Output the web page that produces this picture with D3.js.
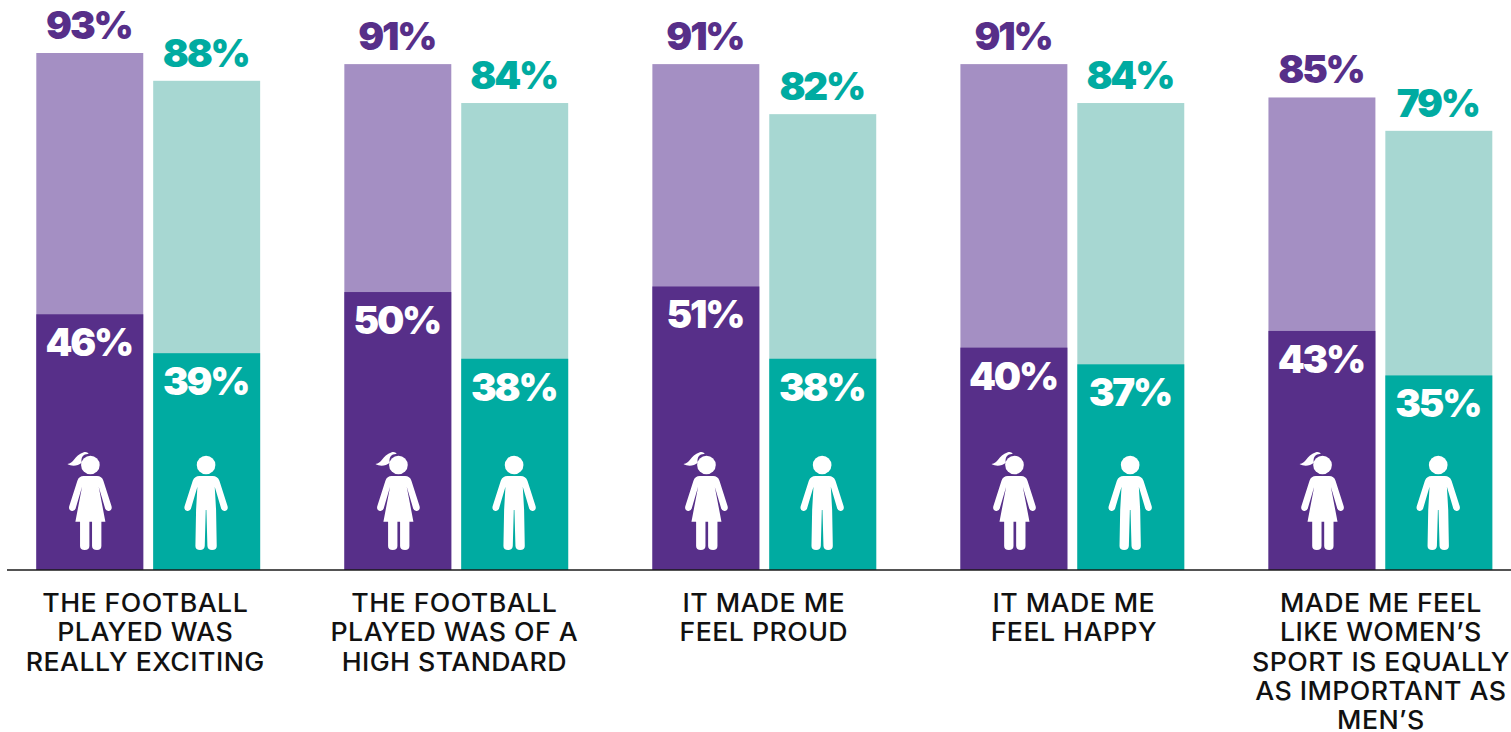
<!DOCTYPE html>
<html><head><meta charset="utf-8">
<script src="https://cdnjs.cloudflare.com/ajax/libs/d3/7.8.5/d3.min.js"></script>
<style>html,body{margin:0;padding:0;background:#fff;overflow:hidden}svg{display:block}</style>
</head><body><svg id="c" width="1511" height="732"></svg>
<script>
const categories = ["football-exciting","football-standard","proud","happy","equally-important"];
const categoryLabels = [
  ["THE FOOTBALL","PLAYED WAS","REALLY EXCITING"],
  ["THE FOOTBALL","PLAYED WAS OF A","HIGH STANDARD"],
  ["IT MADE ME","FEEL PROUD"],
  ["IT MADE ME","FEEL HAPPY"],
  ["MADE ME FEEL","LIKE WOMEN\u2019S","SPORT IS EQUALLY","AS IMPORTANT AS","MEN\u2019S"]
];
const genders = ["girls","boys"];
const girlsTotal = [93,91,91,91,85];
const boysTotal = [88,84,82,84,79];
const girlsStrong = [46,50,51,40,43];
const boysStrong = [39,38,38,37,35];

const colors = {girls:{dark:"#572f89",light:"#a48fc3"},boys:{dark:"#00aba1",light:"#a7d7d2"}};
const svg = d3.select("#c");
const baseY = 570, H = 517;
const y = d3.scaleLinear().domain([0,93]).range([baseY, baseY-H]);
const x0 = d3.scaleBand().domain(categories).range([36.3,1492.3]).paddingInner(0.2733);
const x1 = d3.scaleBand().domain(genders).range([0,x0.bandwidth()]).paddingInner(0.085);
const rows = categories.flatMap((c,i)=>[
  {c,i,g:"girls",total:girlsTotal[i],strong:girlsStrong[i]},
  {c,i,g:"boys",total:boysTotal[i],strong:boysStrong[i]}
]);
const bx = d => x0(d.c)+x1(d.g);
const styleValue = s => s.style("font-family","Inter, sans-serif").style("font-weight",900)
  .style("font-size","38.5px").style("letter-spacing","-2.2px");

svg.append("g").selectAll("rect").data(rows).join("rect")
  .attr("x",bx).attr("width",x1.bandwidth())
  .attr("y",d=>y(d.total)).attr("height",d=>y(0)-y(d.total))
  .attr("fill",d=>colors[d.g].light);
svg.append("g").selectAll("rect").data(rows).join("rect")
  .attr("x",bx).attr("width",x1.bandwidth())
  .attr("y",d=>y(d.strong)).attr("height",d=>y(0)-y(d.strong))
  .attr("fill",d=>colors[d.g].dark);

// value labels
svg.append("g").selectAll("text").data(rows).join("text")
  .attr("x",d=>bx(d)+x1.bandwidth()/2-1).attr("y",d=>y(d.total)-14)
  .attr("text-anchor","middle").call(styleValue)
  .attr("fill",d=>colors[d.g].dark).text(d=>d.total+"%");
svg.append("g").selectAll("text").data(rows).join("text")
  .attr("x",d=>bx(d)+x1.bandwidth()/2-1).attr("y",d=>y(d.strong)+42)
  .attr("text-anchor","middle").call(styleValue)
  .attr("fill","#fff").text(d=>d.strong+"%");

// icons
const girlBody = "M-20,108 L20,108 Q34,108 39,122 L63,197 Q67,210 56,213 Q47,215 44,205 L25,140 L45,245 L33,245 L33,318 Q33,330 20,330 Q5,330 5,318 L5,245 L-3,245 L-3,318 Q-3,330 -17,330 Q-31,330 -31,318 L-31,245 L-45,245 L-25,140 L-44,205 Q-47,215 -56,213 Q-67,210 -63,197 L-39,122 Q-34,108 -20,108 Z";
const girlTail = "M-26,68 C-38,78 -55,80 -69,72 C-50,72 -50,48 -20,37 C-12,35 -8,38 -5,42 C-18,40 -30,50 -26,68 Z";
const boyBody = "M-20,108 L20,108 Q34,108 40,122 L64,197 Q68,210 57,213 Q48,215 45,205 L26,140 L30,210 L32,318 Q32,330 18,330 Q5,330 4,318 L1,210 L-1,210 L-4,318 Q-5,330 -18,330 Q-32,330 -32,318 L-30,210 L-26,140 L-45,205 Q-48,215 -57,213 Q-68,210 -64,197 L-40,122 Q-34,108 -20,108 Z";
const ig = svg.append("g").selectAll("g").data(rows).join("g")
  .attr("transform",d=>`translate(${bx(d)+x1.bandwidth()/2+(d.g==="girls"?0.6:-0.6)},440) scale(${1/3})`)
  .attr("fill","#fff");
ig.append("circle").attr("cx",0).attr("cy",75).attr("r",28);
ig.append("path").attr("d",d=>d.g==="girls"?girlBody:boyBody);
ig.filter(d=>d.g==="girls").append("path").attr("d",girlTail);

// axis
const axis = d3.axisBottom(x0).tickSize(0).tickFormat("");
const ag = svg.append("g").attr("transform",`translate(0,${baseY})`).call(axis);
ag.select(".domain").attr("d","M7,0H1511").attr("stroke","#1a1a1a").attr("stroke-width",1.3);
const labelOffsets = [-3,-2,-0.5,1.5,0.5];
const lg = svg.append("g").selectAll("text").data(categories).join("text")
  .attr("text-anchor","middle").attr("fill","#111")
  .attr("transform",(c,i)=>`translate(${x0(c)+x0.bandwidth()/2+labelOffsets[i]},0) scale(1.07,1)`)
  .style("font-family","Inter, sans-serif").style("font-weight",500)
  .style("font-size","25px").style("letter-spacing","0.4px");
lg.each(function(c,i){
  d3.select(this).selectAll("tspan").data(categoryLabels[i]).join("tspan")
    .attr("x",0).attr("y",(d,j)=>612+j*29.3).text(d=>d);
});
</script></body></html>
